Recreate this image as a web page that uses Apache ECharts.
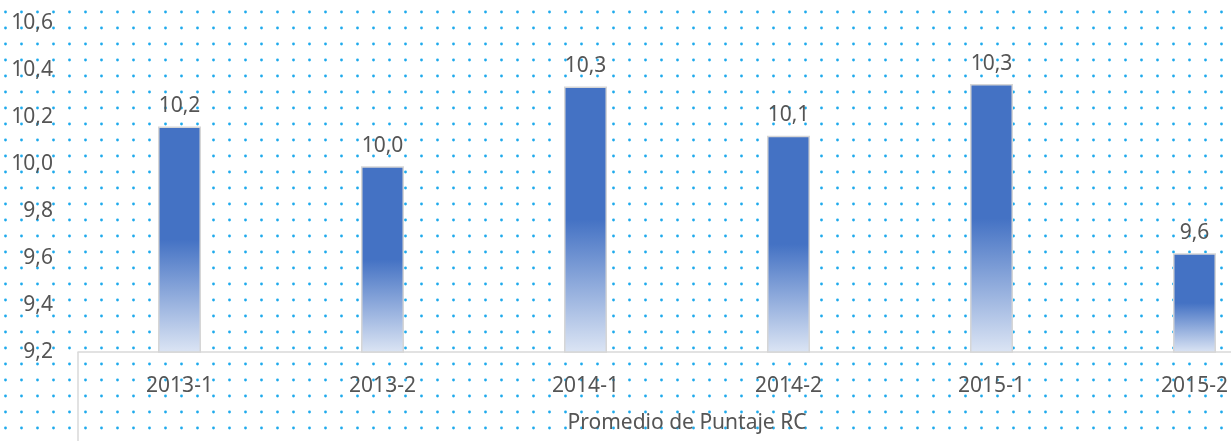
<!DOCTYPE html>
<html>
<head>
<meta charset="utf-8">
<script src="https://cdn.jsdelivr.net/npm/echarts@6/dist/echarts.min.js"></script>
<style>
  html, body { margin: 0; padding: 0; background: #fff; }
  #chart { width: 1231px; height: 441px; }
</style>
</head>
<body>
<div id="chart"></div>
<script>
// datos
const categories = ['2013-1', '2013-2', '2014-1', '2014-2', '2015-1', '2015-2'];
const promedio = [10.16, 9.99, 10.33, 10.12, 10.34, 9.62];
const yMin = 9.2;
const yMax = 10.6;
const yStep = 0.2;
const axisTitle = 'Promedio de Puntaje RC';

const textColor = '#555555';
const lineColor = '#d9d9d9';
const font = '"Noto Sans", "Open Sans", sans-serif';
const fs = 21;

// fondo punteado
const tile = document.createElement('canvas');
tile.width = 16;
tile.height = 16;
const ctx = tile.getContext('2d');
ctx.fillStyle = '#ffffff';
ctx.fillRect(0, 0, 16, 16);
ctx.fillStyle = '#1eaaec';
ctx.beginPath();
ctx.arc(5.5, 12, 1.4, 0, Math.PI * 2);
ctx.fill();

const fmt = v => v.toFixed(1).replace('.', ',');

const chart = echarts.init(document.getElementById('chart'));

const option = {
  backgroundColor: { image: tile, repeat: 'repeat' },
  animation: false,
  textStyle: { fontFamily: font },
  grid: { left: 78, top: 23, width: 1218, height: 329, outerBoundsMode: 'none', containLabel: false },
  xAxis: {
    type: 'category',
    data: categories,
    name: axisTitle,
    nameLocation: 'middle',
    nameGap: 61,
    nameTextStyle: { color: textColor, fontSize: fs, fontFamily: font },
    axisLine: { show: true, lineStyle: { color: lineColor, width: 1.5 } },
    axisTick: {
      show: true,
      interval: i => i === 0,
      length: 90,
      lineStyle: { color: lineColor, width: 1.5 }
    },
    axisLabel: { color: textColor, fontSize: fs, margin: 24, fontFamily: font }
  },
  yAxis: {
    type: 'value',
    min: yMin,
    max: yMax,
    interval: yStep,
    axisLine: { show: false },
    axisTick: { show: false },
    splitLine: { show: false },
    axisLabel: {
      color: textColor,
      fontSize: fs,
      margin: 25,
      fontFamily: font,
      formatter: v => fmt(v)
    }
  },
  series: [
    {
      type: 'bar',
      data: promedio,
      barWidth: 43,
      itemStyle: {
        borderColor: '#d6d6d6',
        borderWidth: 1.5,
        color: new echarts.graphic.LinearGradient(0, 0, 0, 1, [
          { offset: 0, color: '#4472c4' },
          { offset: 0.5, color: '#4472c4' },
          { offset: 1, color: '#dce5f4' }
        ])
      },
      label: {
        show: true,
        position: 'top',
        distance: 10,
        color: textColor,
        fontSize: fs,
        fontFamily: font,
        formatter: p => fmt(p.value)
      }
    }
  ]
};

chart.setOption(option);
</script>
</body>
</html>
